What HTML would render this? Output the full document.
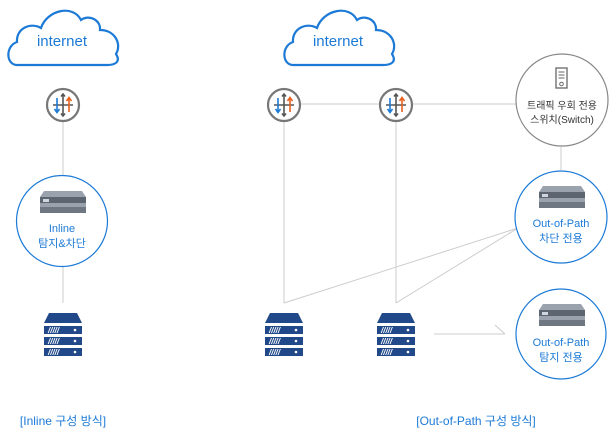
<!DOCTYPE html>
<html><head><meta charset="utf-8"><style>
body{margin:0;background:#fff;width:613px;height:432px;overflow:hidden}
text{font-family:"Liberation Sans","Noto Sans CJK KR",sans-serif}
</style></head><body>
<svg width="613" height="432" viewBox="0 0 613 432" xmlns="http://www.w3.org/2000/svg">
<defs>
<g id="cloud"><path d="M14,63 C3,63 2,44 14,40 C13,26 28,20 38,26 C44,8 70,2 78,18 C86,12 98,18 97,28 C112,28 119,42 113,52 C118,60 112,63 104,63 Z" fill="#fff" stroke="#1c7ad6" stroke-width="2.2"/></g>
<g id="router">
<circle cx="0" cy="0" r="16" fill="#fff" stroke="#777" stroke-width="2.2"/>
<g stroke-width="1.6" fill="none">
<path d="M-10,0 H10" stroke="#555"/>
<path d="M0,-11 V11" stroke="#555"/>
<path d="M-6,-7 V7" stroke="#1c7ad6"/><path d="M-8.5,4 L-6,7.5 L-3.5,4" stroke="#1c7ad6"/>
<path d="M6,7 V-7" stroke="#e8601c"/><path d="M3.5,-4 L6,-7.5 L8.5,-4" stroke="#e8601c"/>
<path d="M-2,-8.5 L0,-11 L2,-8.5 M-2,8.5 L0,11 L2,8.5" stroke="#555"/>
</g></g>
<g id="server" fill="#21498a">
<path d="M-14,-22 H14 L19,-12 H-19 Z"/>
<rect x="-19" y="-9" width="38" height="8"/>
<rect x="-19" y="2" width="38" height="8"/>
<rect x="-19" y="13" width="38" height="8"/>
<g fill="#fff"><circle cx="12" cy="-5" r="1.3"/><circle cx="12" cy="6" r="1.3"/><circle cx="12" cy="17" r="1.3"/>
<text x="-15" y="-2" font-size="8" font-weight="bold" font-style="italic" fill="#fff">/////</text>
<text x="-15" y="9" font-size="8" font-weight="bold" font-style="italic" fill="#fff">/////</text>
<text x="-15" y="20" font-size="8" font-weight="bold" font-style="italic" fill="#fff">/////</text></g>
</g>
<g id="appl">
<path d="M-22,-8 L-18,-14 H20 L24,-8 V8 H-22 Z" fill="#9aa2ad"/>
<rect x="-22" y="-8" width="46" height="6" fill="#5d6570"/>
<rect x="-22" y="2" width="46" height="6" fill="#6f7782"/>
<rect x="-19" y="-6" width="6" height="3" fill="#cfd6de"/>
</g>
</defs>
<g stroke="#ccc" stroke-width="1" fill="none">
<line x1="63" y1="122" x2="63" y2="176"/>
<line x1="63" y1="267" x2="63" y2="303"/>
<line x1="301" y1="104" x2="516" y2="104"/>
<line x1="284" y1="121" x2="284" y2="303"/>
<line x1="396" y1="121" x2="396" y2="303"/>
<line x1="284" y1="303" x2="518" y2="228"/>
<line x1="396" y1="303" x2="518" y2="228"/>
<line x1="561" y1="147" x2="561" y2="170"/>
<line x1="434" y1="334" x2="505" y2="334"/>
<line x1="495" y1="325" x2="505" y2="334"/>
</g>
<use href="#cloud" x="3" y="2"/>
<text x="62" y="46" font-size="15" fill="#1c7ad6" text-anchor="middle">internet</text>
<use href="#cloud" x="279" y="2"/>
<text x="338" y="46" font-size="15" fill="#1c7ad6" text-anchor="middle">internet</text>
<use href="#router" x="63" y="105"/>
<use href="#router" x="284" y="105"/>
<use href="#router" x="396" y="105"/>
<circle cx="62" cy="221" r="45.5" fill="#fff" stroke="#1c7ad6" stroke-width="1.2"/>
<use href="#appl" x="62" y="205"/>
<text x="62" y="232" font-size="11" fill="#1c7ad6" text-anchor="middle">Inline</text>
<text x="62" y="247" font-size="11" fill="#1c7ad6" text-anchor="middle">탐지&amp;차단</text>
<circle cx="562" cy="100" r="46" fill="#fff" stroke="#888" stroke-width="1.2"/>
<rect x="556" y="68" width="11" height="20" fill="none" stroke="#666" stroke-width="1.3"/>
<path d="M558.5,72 H564.5 M558.5,75 H564.5 M558.5,78 H564.5" stroke="#666" stroke-width="1"/>
<circle cx="561.5" cy="84" r="1.8" fill="none" stroke="#666" stroke-width="1"/>
<text x="562" y="109" font-size="10" fill="#333" text-anchor="middle">트래픽 우회 전용</text>
<text x="562" y="123" font-size="10" fill="#333" text-anchor="middle">스위치(Switch)</text>
<circle cx="561" cy="217" r="46" fill="#fff" stroke="#1c7ad6" stroke-width="1.2"/>
<use href="#appl" x="561" y="200"/>
<text x="561" y="227" font-size="11" fill="#1c7ad6" text-anchor="middle">Out-of-Path</text>
<text x="561" y="242" font-size="11" fill="#1c7ad6" text-anchor="middle">차단 전용</text>
<circle cx="561" cy="334" r="45" fill="#fff" stroke="#1c7ad6" stroke-width="1.2"/>
<use href="#appl" x="561" y="318"/>
<text x="561" y="346" font-size="11" fill="#1c7ad6" text-anchor="middle">Out-of-Path</text>
<text x="561" y="361" font-size="11" fill="#1c7ad6" text-anchor="middle">탐지 전용</text>
<use href="#server" x="63" y="335"/>
<use href="#server" x="284" y="335"/>
<use href="#server" x="396" y="335"/>
<text x="63" y="425" font-size="12" fill="#1c7ad6" text-anchor="middle">[Inline 구성 방식]</text>
<text x="476" y="425" font-size="12" fill="#1c7ad6" text-anchor="middle">[Out-of-Path 구성 방식]</text>
</svg>
</body></html>
